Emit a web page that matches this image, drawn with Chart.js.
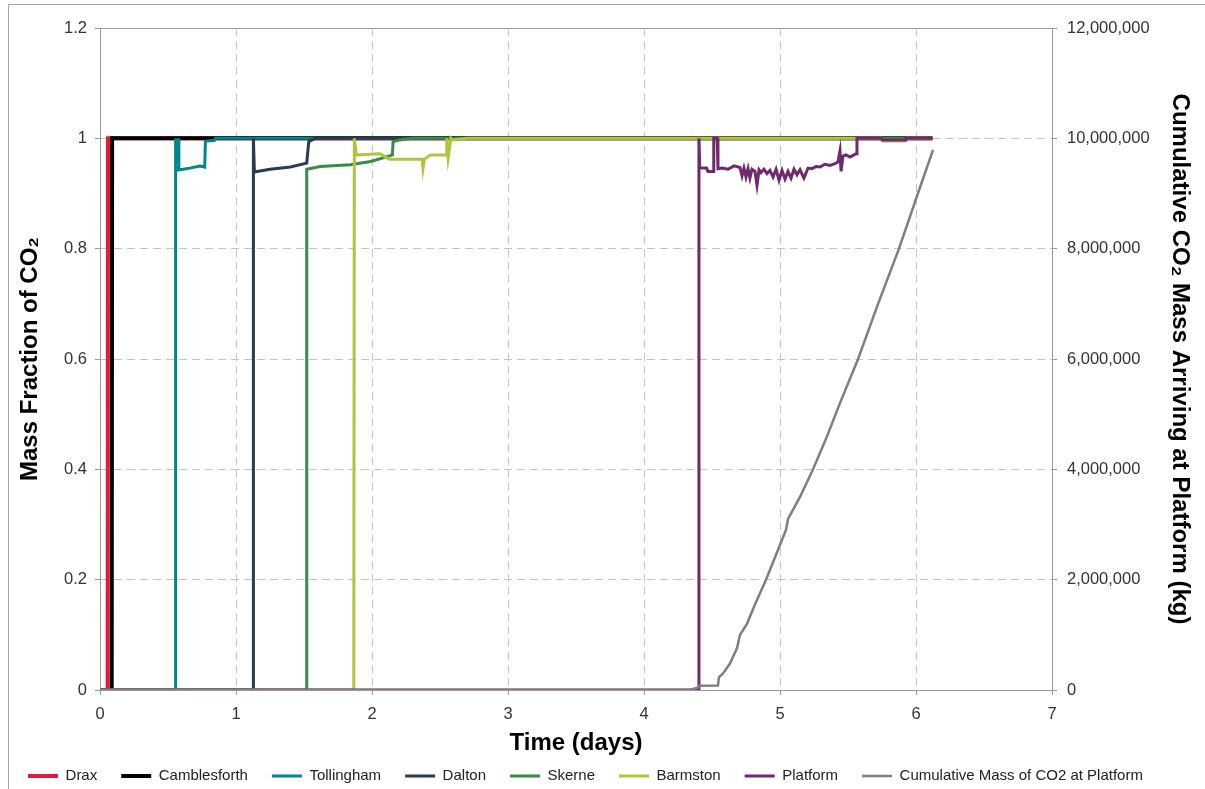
<!DOCTYPE html>
<html>
<head>
<meta charset="utf-8">
<script src="https://cdn.jsdelivr.net/npm/chart.js@4/dist/chart.umd.min.js"></script>
<style>
  html, body { margin: 0; padding: 0; background: #fff; }
  #wrap { position: relative; width: 1205px; height: 789px; overflow: hidden; }
  #frame { position: absolute; left: 8px; top: 4px; width: 1300px; height: 900px;
           border-left: 1px solid #a6a6a6; border-top: 1px solid #a6a6a6; pointer-events: none; }
</style>
</head>
<body>
<div id="wrap">
  <canvas id="myChart" width="1205" height="789"></canvas>
  <div id="frame"></div>
</div>
<script>
// time in days, mass fraction of CO2
const draxT = [0, 0.056, 0.059, 6.12];
const draxV = [0, 0, 1, 1];
const cambT = [0, 0.086, 0.089, 6.12];
const cambV = [0, 0, 1, 1];
const tollT = [0, 0.552, 0.556, 0.560, 0.565, 0.570, 0.575, 0.580, 0.590, 0.66, 0.735, 0.770, 0.775, 0.84, 0.85, 6.12];
const tollV = [0, 0, 1, 0.95, 1, 0.94, 1, 0.943, 0.943, 0.946, 0.95, 0.948, 0.995, 0.996, 1, 1];
const daltT = [0, 1.125, 1.128, 1.135, 1.25, 1.40, 1.52, 1.535, 1.58, 6.12];
const daltV = [0, 0, 1, 0.939, 0.944, 0.948, 0.955, 0.994, 1, 1];
const skerT = [0, 1.515, 1.52, 1.62, 1.84, 1.99, 2.10, 2.15, 2.155, 2.20, 2.30, 6.12];
const skerV = [0, 0, 0.944, 0.949, 0.952, 0.958, 0.966, 0.97, 0.994, 0.997, 1, 1];
const barmT = [0, 1.866, 1.87, 1.885, 2.06, 2.10, 2.13, 2.37, 2.375, 2.385, 2.43, 2.545, 2.55, 2.56, 2.58, 2.59, 2.70, 5.75, 5.76, 5.92, 5.93, 6.12];
const barmV = [0, 0, 1, 0.970, 0.972, 0.966, 0.962, 0.962, 0.946, 0.962, 0.970, 0.970, 1, 0.965, 1, 0.997, 1, 1, 0.995, 0.995, 1, 1];
const platT = [0, 4.40, 4.404, 4.41, 4.46, 4.47, 4.51, 4.513, 4.538, 4.544,
  4.574, 4.618, 4.662, 4.706, 4.721, 4.735, 4.750, 4.765, 4.779, 4.794,
  4.816, 4.831, 4.846, 4.860, 4.882, 4.904, 4.926, 4.949, 4.971, 4.993,
  5.015, 5.037, 5.059, 5.081, 5.103, 5.125, 5.147, 5.176, 5.206, 5.235,
  5.265, 5.294, 5.331, 5.368, 5.404, 5.426, 5.441, 5.449, 5.463, 5.485,
  5.515, 5.544, 5.559, 5.566, 5.75, 5.752, 5.92, 5.925, 6.12];
const platV = [0, 0, 1, 0.946, 0.946, 0.94, 0.94, 1, 1, 0.945,
  0.946, 0.944, 0.950, 0.947, 0.932, 0.946, 0.930, 0.945, 0.928, 0.944,
  0.940, 0.915, 0.943, 0.938, 0.944, 0.936, 0.942, 0.930, 0.944, 0.924,
  0.942, 0.926, 0.940, 0.928, 0.944, 0.934, 0.943, 0.928, 0.946, 0.945,
  0.949, 0.948, 0.953, 0.951, 0.954, 0.957, 0.977, 0.940, 0.968, 0.970,
  0.966, 0.970, 0.972, 1, 1, 0.997, 0.997, 1, 1];
// cumulative mass of CO2 at platform (kg)
const cumT = [0, 4.338, 4.397, 4.404, 4.544, 4.551, 4.581, 4.632, 4.684, 4.706,
  4.757, 4.816, 4.897, 4.971, 5.044, 5.059, 5.147, 5.243, 5.346, 5.441,
  5.574, 5.721, 5.875, 6.007, 6.125];
const cumV = [0, 5000, 40000, 75000, 80000, 230000, 300000, 480000, 760000, 1000000,
  1200000, 1550000, 2000000, 2450000, 2900000, 3100000, 3500000, 4000000, 4600000, 5200000,
  6000000, 7000000, 8000000, 8950000, 9790000];

const xTicks = [0, 1, 2, 3, 4, 5, 6, 7];

const font = '"Liberation Sans", Arial, sans-serif';
const gridCol = '#c4c4c4';
const axisCol = '#9a9a9a';

function pts(t, v) {
    return t.map((x, i) => ({x: x, y: v[i]}));
}

function line(label, t, v, color, width, idx, axis) {
    return {
        label: label,
        data: pts(t, v),
        borderColor: color,
        backgroundColor: color,
        borderWidth: width,
        pointRadius: 0,
        fill: false,
        tension: 0,
        yAxisID: axis || 'y',
        order: 10 - idx
    };
}

const framePlugin = {
    id: 'frame',
    afterDatasetsDraw(chart) {
        const a = chart.chartArea, c = chart.ctx;
        c.save();
        c.strokeStyle = axisCol;
        c.lineWidth = 1;
        c.beginPath();
        c.moveTo(a.left, a.top + 0.5);
        c.lineTo(a.right, a.top + 0.5);
        c.stroke();
        c.restore();
    }
};

let ctx = document.getElementById('myChart');
let myChart = new Chart(ctx, {
    type: 'line',
    data: {
        datasets: [
            line('Drax', draxT, draxV, '#e8173f', 4, 0),
            line('Camblesforth', cambT, cambV, '#000000', 4, 1),
            line('Tollingham', tollT, tollV, '#00868b', 3, 2),
            line('Dalton', daltT, daltV, '#2b3b4e', 3, 3),
            line('Skerne', skerT, skerV, '#3b8a47', 3, 4),
            line('Barmston', barmT, barmV, '#b1c43c', 3, 5),
            line('Platform', platT, platV, '#70296b', 3, 6),
            line('Cumulative Mass of CO2 at Platform', cumT, cumV, '#7f7f7f', 2.5, 7, 'y1')
        ]
    },
    options: {
        responsive: false,
        animation: false,
        layout: {padding: {left: 0, right: 34, top: 28, bottom: -4.5}},
        plugins: {
            legend: {
                position: 'bottom',
                labels: {
                    sort: (a, b) => a.datasetIndex - b.datasetIndex,
                    usePointStyle: true,
                    pointStyle: 'line',
                    pointStyleWidth: 30,
                    boxHeight: 15,
                    padding: 24,
                    color: '#222',
                    font: {family: font, size: 15}
                }
            },
            tooltip: {enabled: false}
        },
        scales: {
            x: {
                type: 'linear',
                min: 0,
                max: 7,
                afterBuildTicks: s => { s.ticks = xTicks.map(v => ({value: v})); },
                afterFit: s => { s.height = 54.5; },
                grid: {color: gridCol, tickColor: axisCol, tickLength: 5, tickBorderDash: []},
                border: {display: true, color: axisCol, dash: [8, 5]},
                ticks: {color: '#333', font: {family: font, size: 16.5}, padding: 10, maxRotation: 0},
                title: {display: true, text: 'Time (days)', color: '#000',
                        font: {family: font, size: 24, weight: 'bold'}, padding: {top: 0, bottom: -13}}
            },
            y: {
                position: 'left',
                min: 0,
                max: 1.2,
                afterFit: s => { s.width = 100; },
                grid: {color: gridCol, tickColor: axisCol, tickLength: 5, tickBorderDash: []},
                border: {display: true, color: axisCol, dash: [8, 5]},
                ticks: {stepSize: 0.2, color: '#333', font: {family: font, size: 16.5}, padding: 8,
                        callback: v => String(Number(v.toFixed(1)))},
                title: {display: true, text: 'Mass Fraction of CO₂', color: '#000',
                        font: {family: font, size: 24, weight: 'bold'}, padding: {top: 16, bottom: 0}}
            },
            y1: {
                position: 'right',
                min: 0,
                max: 12000000,
                afterFit: s => { s.width = 119; },
                grid: {drawOnChartArea: false, tickColor: axisCol, tickLength: 5, tickBorderDash: []},
                border: {display: true, color: axisCol},
                ticks: {stepSize: 2000000, color: '#333', font: {family: font, size: 16.5}, padding: 10,
                        callback: v => v.toLocaleString('en-US')},
                title: {display: true, text: 'Cumulative CO₂ Mass Arriving at Platform (kg)', color: '#000',
                        font: {family: font, size: 24, weight: 'bold'}, padding: {top: -23, bottom: 0}}
            }
        }
    },
    plugins: [framePlugin]
});
</script>
</body>
</html>
